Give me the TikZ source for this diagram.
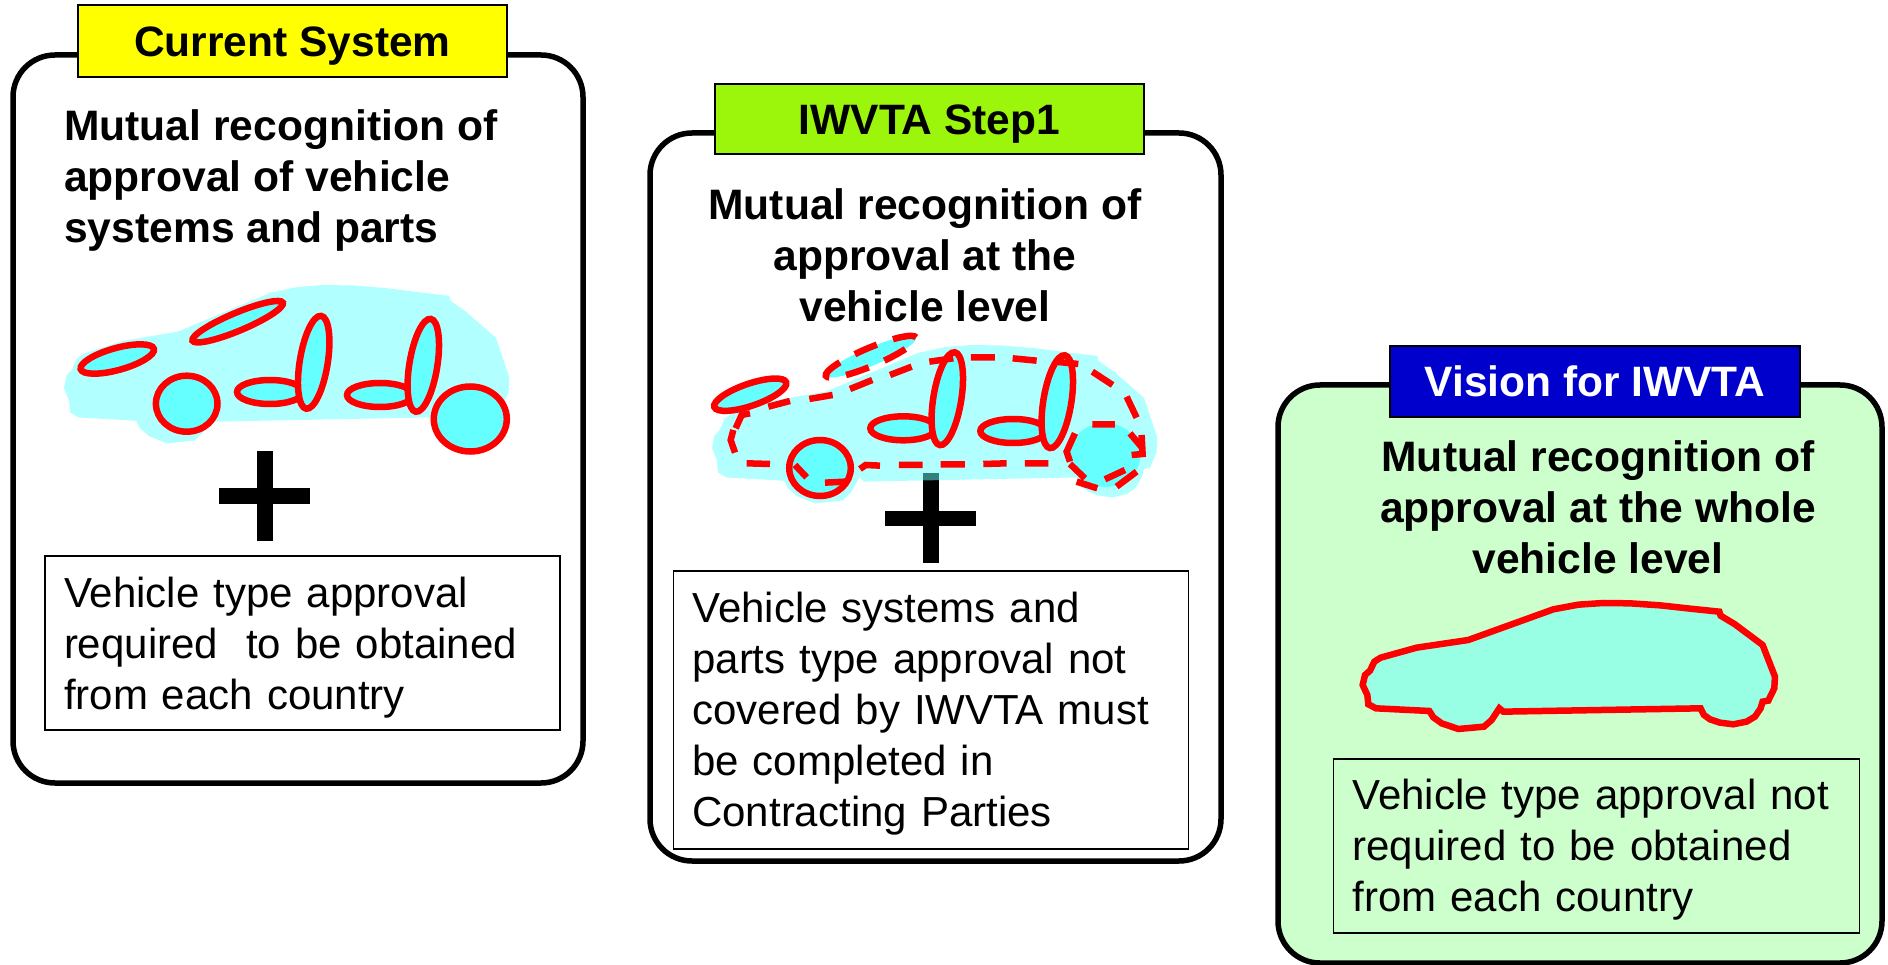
\documentclass[tikz,border=0pt]{standalone}
\usepackage{fontspec}
\setmainfont{Liberation Sans}
\definecolor{cyanf}{HTML}{66FFFF}
\definecolor{redl}{HTML}{FF0000}
\definecolor{greenb}{HTML}{CCFFCC}
\definecolor{yel}{HTML}{FFFF00}
\definecolor{lime}{HTML}{9CF60C}
\definecolor{blueb}{HTML}{0000CC}
\newcommand{\carpath}{(68,315) -- (75,285) -- (90,272) -- (103,245) -- (122,233) -- (230,203) -- (385,180) -- (640,88) -- (715,74) -- (790,69) -- (870,70) -- (960,76) -- (1060,87) -- (1138,95) -- (1142,107) -- (1185,133) -- (1268,195) -- (1305,290) -- (1303,325) -- (1285,362) -- (1268,365) -- (1262,385) -- (1245,410) -- (1220,425) -- (1180,433) -- (1140,428) -- (1110,418) -- (1092,405) -- (1082,385) -- (490,395) -- (478,385) -- (455,420) -- (432,440) -- (355,447) -- (305,430) -- (280,412) -- (268,393) -- (108,385) -- (85,373) -- (82,345) -- cycle}
\newcommand{\partoval}[6][partsolid]{\draw[#1] (#2,#3) ellipse[x radius=#4pt,y radius=#5pt,rotate=#6];}
\newcommand{\firstline}{\rule{0pt}{38pt}}
\tikzset{
  x=1pt,y=-1pt,
  frame/.style={draw=black,line width=5.5pt,rounded corners=42pt,fill=white,outer sep=0pt,inner sep=0pt},
  titlebox/.style={draw=black,line width=1.5pt,outer sep=0pt,inner sep=0pt,text height=30.5pt,text depth=0pt,font=\fontsize{42.5}{49}\selectfont\bfseries},
  heading/.style={inner sep=0pt,font=\fontsize{42.6}{51}\selectfont\bfseries},
  infobox/.style={draw=black,line width=1.5pt,outer sep=0pt,inner ysep=0pt,inner xsep=19pt,align=left,font=\fontsize{42}{51}\selectfont},
  partsolid/.style={draw=redl,line width=6.5pt,fill=cyanf},
  partdashed/.style={partsolid,dash pattern=on 24pt off 17pt},
  carbody/.style={fill=cyanf,fill opacity=0.5},
  plusbar/.style={fill=black},
  dashline/.style={draw=redl,line width=6.5pt}
}
\begin{document}
\begin{tikzpicture}
\useasboundingbox (0,0) rectangle (1888,965);
% ---- frames
\node[frame,minimum width=570pt,minimum height=728pt] (f1) at (298,419) {};
\node[frame,minimum width=571pt,minimum height=728pt] (f2) at (935.5,497) {};
\node[frame,fill=greenb,minimum width=604pt,minimum height=578pt] (f3) at (1580,674) {};
% ---- titles
\node[titlebox,fill=yel,minimum width=429pt,minimum height=72pt] (t1) at (292.5,41) {Current System};
\node[titlebox,fill=lime,minimum width=429pt,minimum height=70pt] (t2) at (929.5,119) {IWVTA Step1};
\node[titlebox,fill=blueb,text=white,minimum width=410pt,minimum height=71pt] (t3) at (1595,381.5) {Vision for IWVTA};
% ---- headings
\node[heading,align=left,anchor=west] (h1) at (64,180) {Mutual recognition of\\approval of vehicle\\systems and parts};
\node[heading,align=center] (h2) at (925,255) {Mutual recognition of\\approval at the\\vehicle level};
\node[heading,align=center] (h3) at (1598,507.5) {Mutual recognition of\\approval at the whole\\vehicle level};
% ---- info boxes
\node[infobox,text width=477pt,minimum height=174pt] (b1) at (302.5,643) {\rule{0pt}{40pt}Vehicle type approval\\required\ \ to be obtained\\from each country};
\node[infobox,text width=477pt,minimum height=278pt] (b2) at (930.8,710) {\firstline Vehicle systems and\\parts type approval not\\covered by IWVTA must\\be completed in\\Contracting Parties};
\node[infobox,text width=488pt,minimum height=174pt] (b3) at (1596.5,846) {\firstline Vehicle type approval not\\required to be obtained\\from each country};
% ---- plus signs
\fill[plusbar] (219.3,488.3) rectangle (310.3,504);
\fill[plusbar] (257.3,450.7) rectangle (273.3,541);
\fill[plusbar] (885.3,510.7) rectangle (976,526);
\fill[plusbar] (922.7,473.3) rectangle (939,563.3);
% ---- car 1
\begin{scope}[shift={(39.5,256.1)},xscale=0.36,yscale=0.419]
\fill[carbody] \carpath;
\end{scope}
\partoval{117.3}{359}{38}{11}{15.5}
\partoval{237.7}{321.7}{49}{9}{22.8}
\partoval{186.7}{403.7}{30.8}{28}{0}
\partoval{470.3}{419}{36.5}{32.5}{0}
\partoval{270}{392}{33}{12}{0}
\partoval{313.7}{362.3}{47}{14}{80.8}
\partoval{380}{395}{33}{12}{0}
\partoval{423.3}{365.3}{47}{14}{80.8}
% ---- car 2
\begin{scope}[shift={(687.5,316.1)},xscale=0.36,yscale=0.419]
\fill[carbody] \carpath;
\end{scope}
\partoval{750.3}{394.7}{38}{11}{19}
\partoval[partdashed]{871}{356.7}{49}{9}{23}
\partoval{820}{468}{30.8}{28}{0}
\fill[cyanf] (1105,455) ellipse[x radius=35.5pt,y radius=32pt];
\partoval{903.3}{428.3}{33}{12}{0}
\partoval{947.3}{398.7}{47}{14}{80.8}
\partoval{1013.3}{431}{33}{12}{0}
\partoval{1057.3}{401.7}{47}{14}{80.8}
\begin{scope}[shift={(690,320)},xscale=0.3333,yscale=0.3333]
\draw[dashline] (235,260)--(300,243) (358,237)--(428,225) (480,207)--(547,180) (600,165)--(665,140)
 (718,125)--(790,115) (843,112)--(915,112) (968,115)--(1040,122) (1095,125)--(1165,132)
 (1207,155)--(1268,195) (1310,230)--(1340,293) (1320,340)--(1358,385)
 (1355,345)--(1358,402)--(1325,405) (1075,430)--(1005,430) (950,430)--(880,432)
 (825,433)--(752,433) (698,435)--(627,435) (570,437)--(527,435)--(510,447)
 (465,485)--(405,488) (350,472)--(315,435) (240,432)--(170,430)
 (135,398)--(122,360)--(130,330) (137,325)--(155,285)--(180,280)
 (1207,313)--(1275,313) (1155,340)--(1130,395)--(1140,425) (1140,432)--(1185,475)
 (1160,485)--(1222,505) (1245,478)--(1305,450) (1280,500)--(1340,455);
\end{scope}
% ---- car 3
\begin{scope}[shift={(1340,580)},xscale=0.3333,yscale=0.3333]
\draw[carbody,draw=redl,draw opacity=1,line width=6.5pt] \carpath;
\end{scope}
\end{tikzpicture}
\end{document}
